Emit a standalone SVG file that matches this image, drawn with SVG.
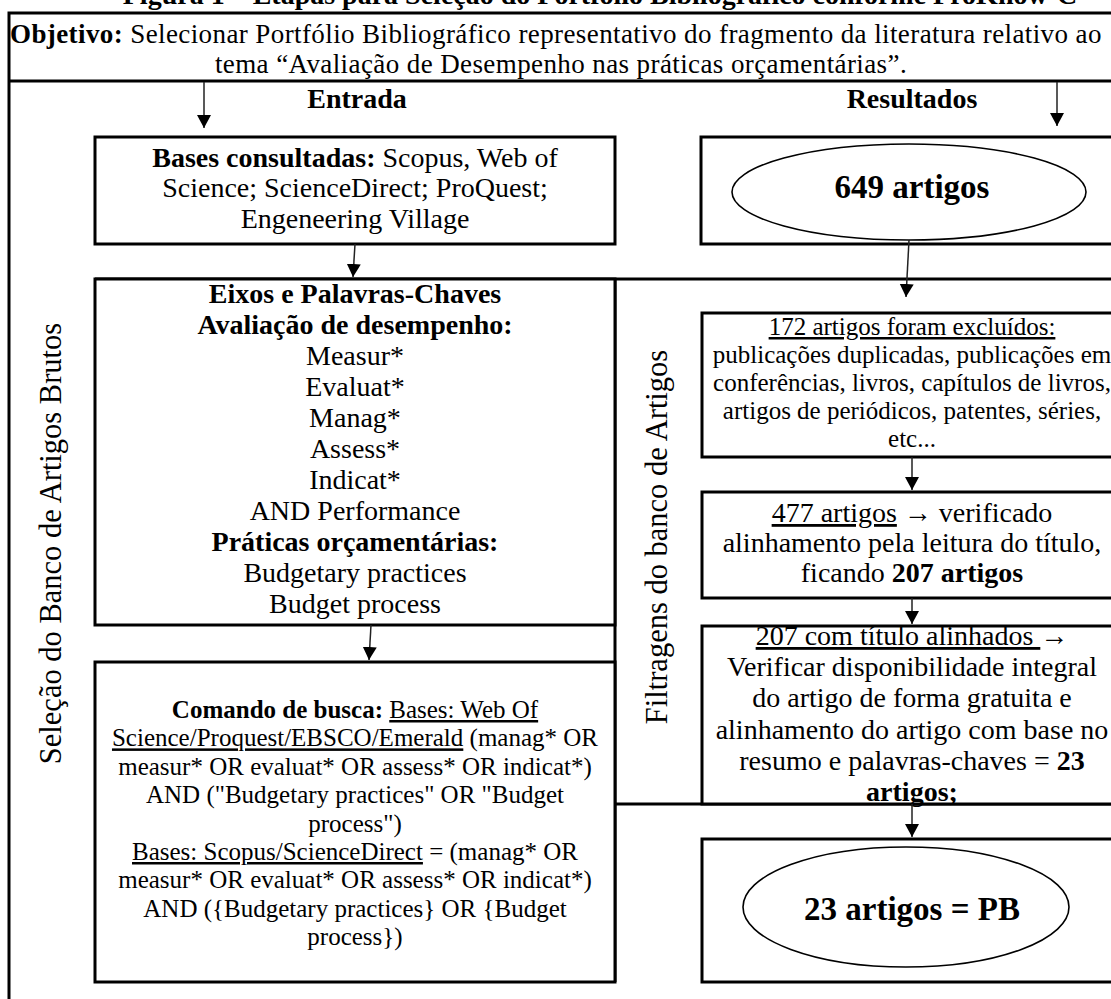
<svg xmlns="http://www.w3.org/2000/svg" width="1111" height="999" viewBox="0 0 1111 999">
<defs>
<style>
text{font-family:"Liberation Serif","Times New Roman",serif;fill:#000;text-anchor:middle}
.s28{font-size:28px}
.s25{font-size:25px}
.s33{font-size:33px;font-weight:bold}
.obj{font-size:27px;letter-spacing:0.4px}
.b{font-weight:bold}
.u{text-decoration:underline}
.frame{fill:none;stroke:#000;stroke-width:3}
.box{fill:#fff;stroke:#000;stroke-width:3}
.ell{fill:#fff;stroke:#000;stroke-width:1.6}
.arr{fill:none;stroke:#222;stroke-width:1.5;marker-end:url(#ah)}
.vlab{font-size:30.5px}
</style>
<marker id="ah" markerUnits="userSpaceOnUse" markerWidth="16" markerHeight="16" viewBox="0 0 16 16" refX="13" refY="8" orient="auto">
<path d="M0,1 L13,8 L0,15 Z" fill="#000"/>
</marker>
</defs>
<rect width="1111" height="999" fill="#fff"/>

<g id="title">
<text class="s28 b" x="600" y="4">Figura 1 – Etapas para Seleção do Portfólio Bibliográfico conforme ProKnow-C</text>
</g>

<g id="frame">
<path class="frame" d="M9,999 V13 H1120"/>
<path class="frame" d="M9,81 H1120"/>
<path class="frame" d="M95,279 H1120"/>
<path class="frame" d="M615,279 V982"/>
<path class="frame" d="M615,804 H1120"/>
</g>

<g id="objetivo">
<text class="obj" x="10" y="43" style="text-anchor:start"><tspan class="b">Objetivo:</tspan> Selecionar Portfólio Bibliográfico representativo do fragmento da literatura relativo ao</text>
<text class="obj" x="561" y="73">tema “Avaliação de Desempenho nas práticas orçamentárias”.</text>
</g>

<g id="headers">
<text class="s28 b" x="357" y="108">Entrada</text>
<text class="s28 b" x="912" y="108">Resultados</text>
</g>

<g id="lab-selecao">
<text class="vlab" transform="translate(61,543.5) rotate(-90)">Seleção do Banco de Artigos Brutos</text>
</g>
<g id="lab-filtragens">
<text class="vlab" transform="translate(667,537) rotate(-90)">Filtragens do banco de Artigos</text>
</g>

<g id="bases">
<rect class="box" x="95" y="137" width="520" height="107"/>
<text class="s28" x="355" y="167"><tspan class="b">Bases consultadas:</tspan> Scopus, Web of</text>
<text class="s28" x="355" y="197">Science; ScienceDirect; ProQuest;</text>
<text class="s28" x="355" y="228">Engeneering Village</text>
</g>

<g id="r649">
<rect class="box" x="701" y="137" width="421" height="107"/>
<ellipse class="ell" cx="909" cy="192" rx="177" ry="48"/>
<text class="s33" x="912" y="198">649 artigos</text>
</g>

<g id="eixos">
<rect class="box" x="95" y="279" width="520" height="346"/>
<text class="s28 b" x="355" y="303">Eixos e Palavras-Chaves</text>
<text class="s28 b" x="355" y="334">Avaliação de desempenho:</text>
<text class="s28" x="355" y="365">Measur*</text>
<text class="s28" x="355" y="396">Evaluat*</text>
<text class="s28" x="355" y="427">Manag*</text>
<text class="s28" x="355" y="458">Assess*</text>
<text class="s28" x="355" y="489">Indicat*</text>
<text class="s28" x="355" y="520">AND Performance</text>
<text class="s28 b" x="355" y="551">Práticas orçamentárias:</text>
<text class="s28" x="355" y="582">Budgetary practices</text>
<text class="s28" x="355" y="613">Budget process</text>
</g>

<g id="comando">
<rect class="box" x="95" y="662" width="520" height="320"/>
<text class="s25" x="355" y="718"><tspan class="b">Comando de busca:</tspan> <tspan class="u">Bases: Web Of </tspan></text>
<text class="s25" x="355" y="746.4"><tspan class="u">Science/Proquest/EBSCO/Emerald</tspan> (manag* OR</text>
<text class="s25" x="355" y="774.8">measur* OR evaluat* OR assess* OR indicat*)</text>
<text class="s25" x="355" y="803.2">AND ("Budgetary practices" OR "Budget</text>
<text class="s25" x="355" y="831.6">process")</text>
<text class="s25" x="355" y="860"><tspan class="u">Bases: Scopus/ScienceDirect</tspan> = (manag* OR</text>
<text class="s25" x="355" y="888.4">measur* OR evaluat* OR assess* OR indicat*)</text>
<text class="s25" x="355" y="916.8">AND ({Budgetary practices} OR {Budget</text>
<text class="s25" x="355" y="945.2">process})</text>
</g>

<g id="r172">
<rect class="box" x="702" y="313" width="420" height="144"/>
<text class="s25" x="912" y="335"><tspan class="u">172 artigos foram excluídos: </tspan></text>
<text class="s25" x="912" y="363">publicações duplicadas, publicações em</text>
<text class="s25" x="912" y="391">conferências, livros, capítulos de livros,</text>
<text class="s25" x="912" y="419">artigos de periódicos, patentes, séries,</text>
<text class="s25" x="912" y="447">etc...</text>
</g>

<g id="r477">
<rect class="box" x="702" y="492" width="420" height="106"/>
<text class="s28" x="912" y="522"><tspan class="u">477 artigos</tspan> → verificado</text>
<text class="s28" x="912" y="552">alinhamento pela leitura do título,</text>
<text class="s28" x="912" y="582">ficando <tspan class="b">207 artigos</tspan></text>
</g>

<g id="r207">
<rect class="box" x="702" y="626" width="420" height="178"/>
<text class="s28" x="912" y="645"><tspan class="u">207 com título alinhados </tspan>→</text>
<text class="s28" x="912" y="676">Verificar disponibilidade integral</text>
<text class="s28" x="912" y="707">do artigo de forma gratuita e</text>
<text class="s28" x="912" y="739">alinhamento do artigo com base no</text>
<text class="s28" x="912" y="770">resumo e palavras-chaves = <tspan class="b">23</tspan></text>
<text class="s28 b" x="912" y="801">artigos;</text>
</g>

<g id="r23">
<rect class="box" x="702" y="839" width="420" height="143"/>
<ellipse class="ell" cx="906" cy="907" rx="163" ry="60"/>
<text class="s33" x="912" y="920">23 artigos = PB</text>
</g>

<g id="connectors">
<line class="arr" x1="204" y1="82" x2="204" y2="128"/>
<line class="arr" x1="1057" y1="82" x2="1057" y2="126"/>
<line class="arr" x1="355" y1="244" x2="353" y2="277"/>
<line class="arr" x1="909" y1="240" x2="906" y2="297"/>
<line class="arr" x1="371" y1="625" x2="369" y2="660"/>
<line class="arr" x1="912" y1="457" x2="912" y2="490"/>
<line class="arr" x1="912" y1="598" x2="912" y2="624"/>
<line class="arr" x1="912" y1="804" x2="912" y2="837"/>
</g>
</svg>
